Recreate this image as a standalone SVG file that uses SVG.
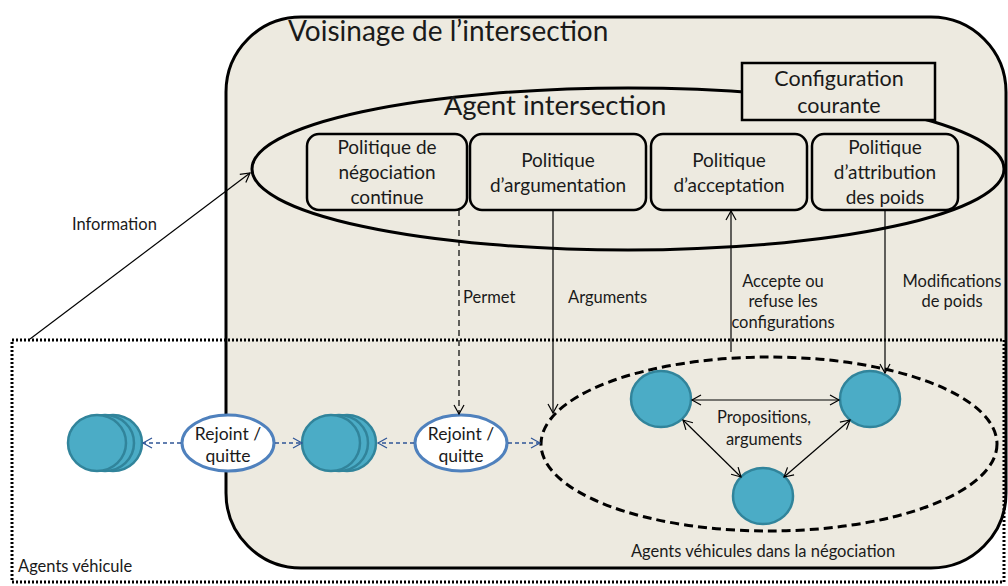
<svg xmlns="http://www.w3.org/2000/svg" width="1008" height="586" viewBox="0 0 1008 586">
<style>
text{font-family:Lato,"Open Sans","Liberation Sans",sans-serif;fill:#1a1a1a}
.box{fill:#EDEAE0;stroke:#000;stroke-width:2.5}
.t17{font-size:19px;text-anchor:middle}
.t15{font-size:16.5px}
.veh{fill:#4BACC6;stroke:#31849B;stroke-width:2.5}
.rq{fill:#fff;stroke:#4F81BD;stroke-width:3}
.ln{fill:none;stroke:#000;stroke-width:1.2}
.bl{fill:none;stroke:#2F5597;stroke-width:1.3;stroke-dasharray:4 3}
</style>
<defs>
<marker id="ah" markerWidth="12" markerHeight="12" refX="10" refY="6" orient="auto-start-reverse" markerUnits="userSpaceOnUse">
<path d="M1,1 L10,6 L1,11" fill="none" stroke="#000" stroke-width="1.2"/>
</marker>
<marker id="ahb" markerWidth="12" markerHeight="12" refX="10" refY="6" orient="auto-start-reverse" markerUnits="userSpaceOnUse">
<path d="M1,1 L10,6 L1,11" fill="none" stroke="#2F5597" stroke-width="1.2"/>
</marker>
</defs>

<g id="voisinage">
<rect x="226" y="17" width="780" height="551" rx="75" ry="75" fill="#EDEAE0" stroke="#000" stroke-width="3"/>
<text x="288" y="41" font-size="28">Voisinage de l’intersection</text>
</g>

<g id="agents-vehicule">
<rect x="12" y="340" width="992" height="242" fill="none" stroke="#000" stroke-width="3" stroke-dasharray="2 2"/>
<text x="18" y="572" class="t15">Agents véhicule</text>
</g>

<g id="agent-intersection">
<ellipse cx="628" cy="169" rx="376" ry="81" fill="none" stroke="#000" stroke-width="3"/>
<text x="555" y="115" font-size="27.5" text-anchor="middle">Agent intersection</text>
</g>

<g id="configuration">
<rect x="742" y="63" width="193" height="57" fill="#EDEAE0" stroke="#000" stroke-width="2.5"/>
<text x="839" y="86" font-size="21.5" text-anchor="middle">Configuration</text>
<text x="839" y="113" font-size="21.5" text-anchor="middle">courante</text>
</g>

<g id="politique-negociation">
<rect class="box" x="307" y="134" width="160" height="76" rx="12"/>
<text class="t17" x="387" y="154">Politique de</text>
<text class="t17" x="387" y="179">négociation</text>
<text class="t17" x="387" y="204">continue</text>
</g>
<g id="politique-argumentation">
<rect class="box" x="470" y="134" width="176" height="76" rx="12"/>
<text class="t17" x="558" y="167">Politique</text>
<text class="t17" x="558" y="192">d’argumentation</text>
</g>
<g id="politique-acceptation">
<rect class="box" x="651" y="134" width="156" height="76" rx="12"/>
<text class="t17" x="729" y="167">Politique</text>
<text class="t17" x="729" y="192">d’acceptation</text>
</g>
<g id="politique-attribution">
<rect class="box" x="812" y="134" width="146" height="76" rx="12"/>
<text class="t17" x="885" y="154">Politique</text>
<text class="t17" x="885" y="179">d’attribution</text>
<text class="t17" x="885" y="204">des poids</text>
</g>

<g id="negociation-group">
<ellipse cx="769" cy="444" rx="228" ry="87" fill="none" stroke="#000" stroke-width="3" stroke-dasharray="9 5"/>
<text x="763" y="557" class="t15" text-anchor="middle">Agents véhicules dans la négociation</text>
</g>

<g id="vehicule-a"><ellipse class="veh" cx="661" cy="399" rx="30" ry="28"/></g>
<g id="vehicule-b"><ellipse class="veh" cx="870" cy="399" rx="30" ry="28"/></g>
<g id="vehicule-c"><ellipse class="veh" cx="763" cy="496" rx="30" ry="28"/></g>

<g id="stack-1">
<ellipse class="veh" cx="113" cy="443" rx="29" ry="28"/>
<ellipse class="veh" cx="105" cy="443" rx="29" ry="28"/>
<ellipse class="veh" cx="97" cy="443" rx="29" ry="28"/>
</g>
<g id="stack-2">
<ellipse class="veh" cx="347" cy="443" rx="29" ry="28"/>
<ellipse class="veh" cx="339" cy="443" rx="29" ry="28"/>
<ellipse class="veh" cx="331" cy="443" rx="29" ry="28"/>
</g>

<g id="rejoint-1">
<ellipse class="rq" cx="228" cy="443" rx="46" ry="28"/>
<text x="228" y="440" font-size="17.5" text-anchor="middle">Rejoint /</text>
<text x="228" y="462" font-size="17.5" text-anchor="middle">quitte</text>
</g>
<g id="rejoint-2">
<ellipse class="rq" cx="461" cy="443" rx="46" ry="28"/>
<text x="461" y="440" font-size="17.5" text-anchor="middle">Rejoint /</text>
<text x="461" y="462" font-size="17.5" text-anchor="middle">quitte</text>
</g>

<g id="connectors">
<line class="ln" x1="30" y1="339" x2="250" y2="173" marker-end="url(#ah)"/>
<line class="ln" x1="459" y1="210" x2="459" y2="414" stroke-dasharray="6 4" marker-end="url(#ah)"/>
<line class="ln" x1="553" y1="210" x2="553" y2="413" marker-end="url(#ah)"/>
<line class="ln" x1="731" y1="352" x2="731" y2="211" marker-end="url(#ah)"/>
<line class="ln" x1="885" y1="210" x2="885" y2="373" marker-end="url(#ah)"/>
<line class="ln" x1="692" y1="400" x2="839" y2="400" marker-start="url(#ah)" marker-end="url(#ah)"/>
<line class="ln" x1="683" y1="420" x2="741" y2="477" marker-start="url(#ah)" marker-end="url(#ah)"/>
<line class="ln" x1="850" y1="420" x2="784" y2="477" marker-start="url(#ah)" marker-end="url(#ah)"/>
<line class="bl" x1="181" y1="443" x2="143" y2="443" marker-end="url(#ahb)"/>
<line class="bl" x1="275" y1="443" x2="302" y2="443" marker-end="url(#ahb)"/>
<line class="bl" x1="414" y1="443" x2="378" y2="443" marker-end="url(#ahb)"/>
<line class="bl" x1="508" y1="443" x2="540" y2="443" marker-end="url(#ahb)"/>
<text class="t15" x="72" y="230">Information</text>
<text class="t15" x="463" y="303">Permet</text>
<text class="t15" x="568" y="303">Arguments</text>
<text class="t15" x="783" y="287" text-anchor="middle">Accepte ou</text>
<text class="t15" x="783" y="307" text-anchor="middle">refuse les</text>
<text class="t15" x="783" y="328" text-anchor="middle">configurations</text>
<text class="t15" x="952" y="287" text-anchor="middle">Modifications</text>
<text class="t15" x="952" y="307" text-anchor="middle">de poids</text>
<text class="t15" x="764" y="423" text-anchor="middle">Propositions,</text>
<text class="t15" x="764" y="445" text-anchor="middle">arguments</text>
</g>
</svg>
